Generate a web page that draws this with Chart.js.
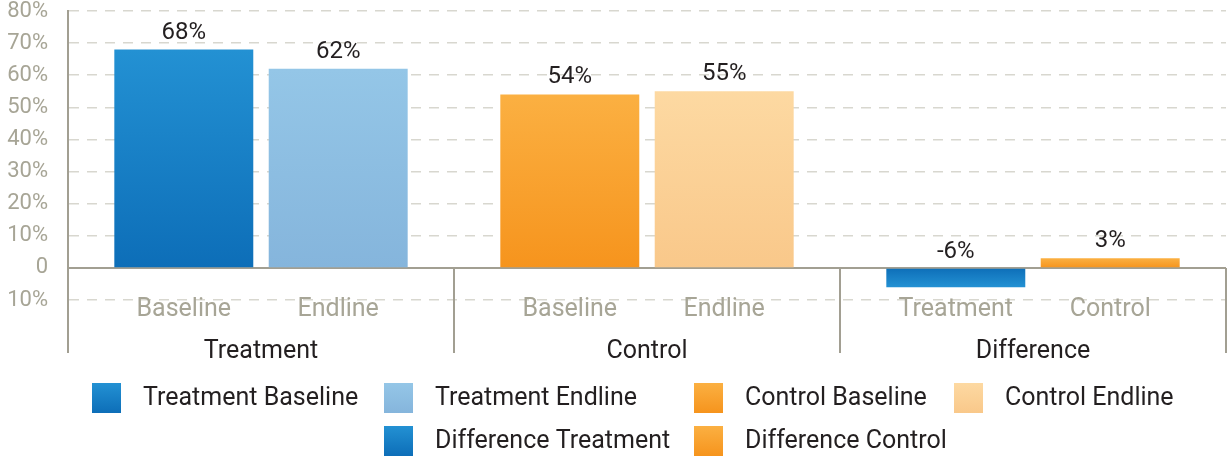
<!DOCTYPE html>
<html>
<head>
<meta charset="utf-8">
<script src="https://cdn.jsdelivr.net/npm/chart.js@4.4.1/dist/chart.umd.min.js"></script>
<style>
  html, body { margin: 0; padding: 0; background: #fff; }
  #wrap { width: 1228px; height: 458px; }
</style>
</head>
<body>
<div id="wrap"><canvas id="chart" width="1228" height="458"></canvas></div>
<script>
// Grupos y subcategorías
const groups = ['Treatment', 'Control', 'Difference'];
const subLabels = ['Baseline', 'Endline', 'Baseline', 'Endline', 'Treatment', 'Control'];
const seriesNames = ['Treatment Baseline', 'Treatment Endline', 'Control Baseline', 'Control Endline', 'Difference Treatment', 'Difference Control'];
// Un valor por serie (%), cada serie vive en un solo grupo
const seriesValues = [68, 62, 54, 55, -6, 3];
const seriesGroup = [0, 0, 1, 1, 2, 2];
const yTicks = [-10, 0, 10, 20, 30, 40, 50, 60, 70, 80];

// Colores degradados: [extremo, base]
const seriesColors = [
  ['#2391d3', '#0d6eb8'],
  ['#94c6e7', '#85b5dc'],
  ['#fbb042', '#f6941d'],
  ['#fdd9a2', '#f9c88a'],
  ['#2391d3', '#0d6eb8'],
  ['#fbb042', '#f6941d']
];

const FONT = 'Roboto, "Noto Sans", sans-serif';
const GRAY = '#a7a596';
const AXIS = '#a29f92';
const DARK = '#231f20';

function barGradient(i) {
  return (ctx) => {
    const chart = ctx.chart;
    if (!chart.chartArea || ctx.raw == null) return seriesColors[i][1];
    const y = chart.scales.y;
    const yEnd = y.getPixelForValue(ctx.raw);
    const yBase = y.getPixelForValue(0);
    const g = chart.ctx.createLinearGradient(0, yEnd, 0, yBase);
    g.addColorStop(0, seriesColors[i][0]);
    g.addColorStop(1, seriesColors[i][1]);
    return g;
  };
}

const datasets = seriesNames.map((name, i) => ({
  label: name,
  data: groups.map((g, gi) => (seriesGroup[i] === gi ? seriesValues[i] : null)),
  backgroundColor: barGradient(i),
  borderWidth: 0
}));

// Línea del cero, separadores de grupo, subetiquetas y valores
const decorations = {
  id: 'decorations',
  beforeDatasetsDraw(chart) {
    const { ctx, chartArea, scales: { y } } = chart;
    const y0 = y.getPixelForValue(0);
    ctx.save();
    ctx.strokeStyle = AXIS;
    ctx.lineWidth = 2;
    ctx.beginPath();
    ctx.moveTo(chartArea.left, y0);
    ctx.lineTo(chartArea.right, y0);
    ctx.stroke();
    ctx.restore();
  },
  afterDatasetsDraw(chart) {
    const { ctx, chartArea, scales: { x, y } } = chart;
    const y0 = y.getPixelForValue(0);
    const half = (x.getPixelForValue(1) - x.getPixelForValue(0)) / 2;
    ctx.save();
    ctx.strokeStyle = AXIS;
    ctx.lineWidth = 2;
    for (let i = 0; i <= groups.length; i++) {
      const px = Math.round(x.getPixelForValue(0) - half + i * 2 * half);
      ctx.beginPath();
      ctx.moveTo(px, y0);
      ctx.lineTo(px, x.bottom - 12);
      ctx.stroke();
    }
    ctx.textAlign = 'center';
    ctx.textBaseline = 'middle';
    chart.data.datasets.forEach((ds, i) => {
      const meta = chart.getDatasetMeta(i);
      meta.data.forEach((bar, j) => {
        const v = ds.data[j];
        if (v == null) return;
        ctx.fillStyle = GRAY;
        ctx.font = '25px ' + FONT;
        ctx.fillText(subLabels[i], bar.x, chartArea.bottom + 10);
        ctx.fillStyle = DARK;
        ctx.font = '24px ' + FONT;
        ctx.fillText(v + '%', bar.x, Math.min(bar.y, bar.base) - 17);
      });
    });
    ctx.restore();
  }
};

// Leyenda en cuadrícula (dos filas)
const legendSlots = [[92, 398], [384, 398], [694, 398], [954, 398], [384, 441], [694, 441]];
const gridLegend = {
  id: 'gridLegend',
  afterDraw(chart) {
    const { ctx } = chart;
    ctx.save();
    ctx.font = '25px ' + FONT;
    ctx.textBaseline = 'middle';
    ctx.textAlign = 'left';
    seriesNames.forEach((name, i) => {
      const [lx, ly] = legendSlots[i];
      const g = ctx.createLinearGradient(0, ly - 15, 0, ly + 15);
      g.addColorStop(0, seriesColors[i][0]);
      g.addColorStop(1, seriesColors[i][1]);
      ctx.fillStyle = g;
      ctx.fillRect(lx, ly - 15, 29, 30);
      ctx.fillStyle = DARK;
      ctx.fillText(name, lx + 51, ly + 1);
    });
    ctx.restore();
  }
};

new Chart(document.getElementById('chart'), {
  type: 'bar',
  data: { labels: groups, datasets: datasets },
  options: {
    responsive: false,
    animation: false,
    skipNull: true,
    layout: { padding: { top: 11, right: 2, left: 0, bottom: 93 } },
    plugins: { legend: { display: false }, tooltip: { enabled: false } },
    scales: {
      x: {
        grid: { display: false, drawTicks: false },
        border: { display: false },
        ticks: { color: DARK, font: { family: FONT, size: 25 }, padding: 37 },
        afterFit(scale) { scale.height = 65; scale.paddingLeft = 0; scale.paddingRight = 0; }
      },
      y: {
        min: -10,
        max: 80,
        afterBuildTicks(scale) { scale.ticks = yTicks.map(v => ({ value: v })); },
        afterFit(scale) { scale.width = 68; scale.paddingTop = 0; scale.paddingBottom = 0; },
        grid: {
          drawTicks: false,
          color: (c) => (c.tick && c.tick.value === 0 ? 'rgba(0,0,0,0)' : '#d8d7cf'),
          lineWidth: 1.5
        },
        border: { display: true, color: AXIS, width: 2, dash: [10, 8] },
        ticks: {
          color: GRAY,
          padding: 20,
          font: { family: FONT, size: 22 },
          callback: (v) => (v === 0 ? '0' : Math.abs(v) + '%')
        }
      }
    }
  },
  plugins: [decorations, gridLegend]
});
</script>
</body>
</html>
